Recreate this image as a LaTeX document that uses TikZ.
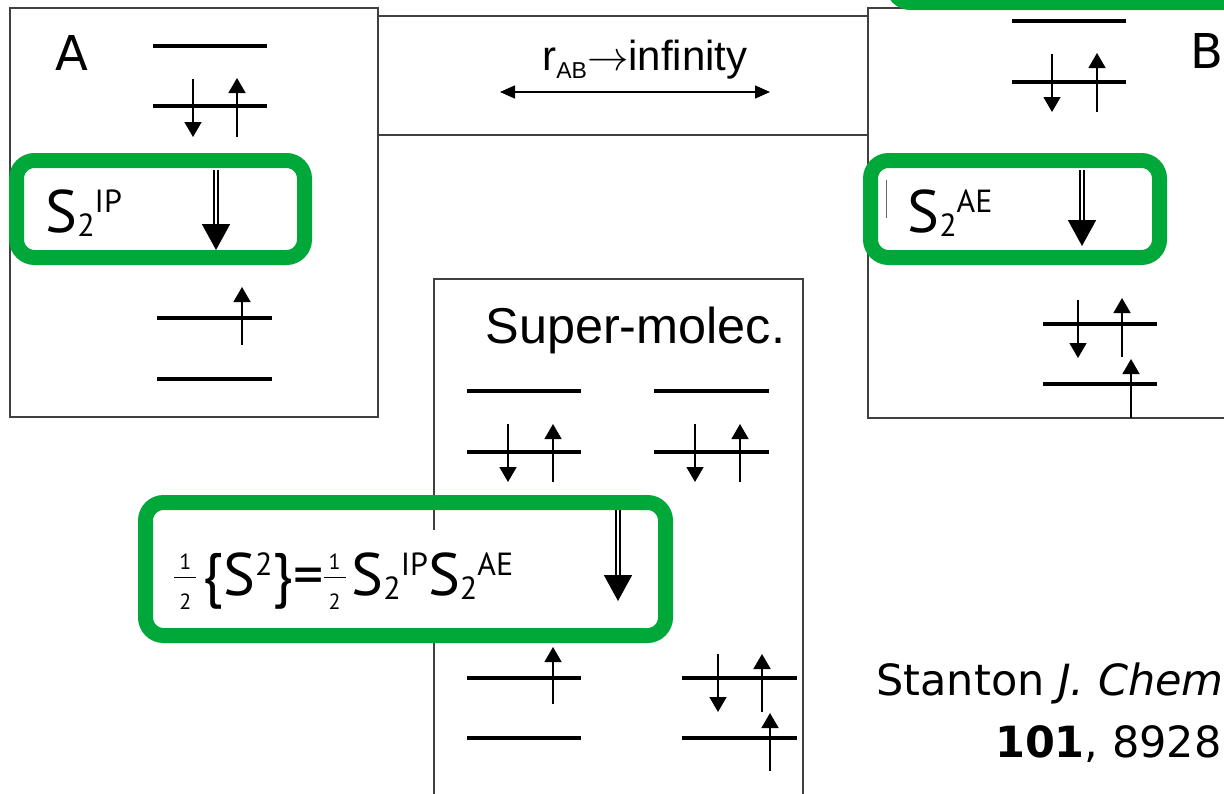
\documentclass[tikz,border=0pt]{standalone}
\usepackage{fontspec}
\setmainfont{DejaVu Sans}
\newfontfamily\arialfont{Liberation Sans}
\newfontfamily\labelfont{PT Sans}
\usetikzlibrary{arrows.meta}
\definecolor{boxgreen}{RGB}{0,168,57}
\newcommand\lowtxt[1]{\raisebox{-2pt}{\fontsize{16}{16}\selectfont #1}}
\newcommand\hightxt[1]{\raisebox{10pt}{\fontsize{16}{16}\selectfont #1}}
\newcommand\halffrac{\makebox[11pt]{%
    \rlap{\raisebox{13pt}{\makebox[11pt]{\fontsize{11}{11}\selectfont 1}}}%
    \rlap{\raisebox{8.5pt}{\rule{11pt}{0.75pt}}}%
    \raisebox{-7pt}{\makebox[11pt]{\fontsize{11}{11}\selectfont 2}}}}
\begin{document}
\begin{tikzpicture}[
        x=0.5pt, y=-0.5pt,
        frame/.style={draw=black!75, line width=0.75pt},
        orbital/.style={line width=2pt},
        spin/.style={line width=0.75pt, -{Triangle[width=8.5pt,length=7.5pt]}},
        transfer/.style={double, line width=0.9pt, double distance=0.9pt,
            -{Triangle[width=14pt,length=13pt]}},
        highlight/.style={draw=boxgreen, line width=7.5pt, rounded corners=9pt},
        spinlabel/.style={anchor=base west, font=\labelfont\fontsize{30}{34}\selectfont},
        every node/.style={inner sep=0pt}
    ]
    \useasboundingbox (0,0) rectangle (1224,793);
    % frames
    \draw[frame] (10,8) rectangle (378,417);
    \draw[frame] (378,16) rectangle (868,135);
    \draw[frame] (868,8) rectangle (1240,418);
    \draw[frame] (434,279) rectangle (803,800);
    % separation
    \node[anchor=base west] (sep) at (542,70)
        {\arialfont\fontsize{21}{24}\selectfont
         r\raisebox{-4pt}{\fontsize{11.5}{12}\selectfont AB}$\rightarrow$infinity};
    \draw[line width=0.75pt, {Triangle[width=6.5pt,length=7.5pt]}-{Triangle[width=6.5pt,length=7.5pt]}]
        (500,92) -- (770,92);
    % molecule A
    \node[anchor=base west] (labelA) at (55,70) {\fontsize{24}{28}\selectfont A};
    \draw[orbital] (153,46) -- (267,46);
    \draw[orbital] (153,106) -- (267,106);
    \draw[spin] (193,79) -- (193,137);
    \draw[spin] (237,137) -- (237,78);
    \draw[transfer] (216,170) -- (216,250);
    \draw[orbital] (157,318) -- (272,318);
    \draw[spin] (242,345) -- (242,287);
    \draw[orbital] (157,379) -- (272,379);
    % molecule B
    \node[anchor=base west] (labelB) at (1190,68) {\fontsize{24}{28}\selectfont B};
    \draw[orbital] (1012,21) -- (1126,21);
    \draw[orbital] (1012,82) -- (1126,82);
    \draw[spin] (1052,54) -- (1052,112);
    \draw[spin] (1097,112) -- (1097,53);
    \draw[transfer] (1082,170) -- (1082,246);
    \draw[orbital] (1043,324) -- (1157,324);
    \draw[spin] (1078,300) -- (1078,358);
    \draw[spin] (1122,357) -- (1122,298);
    \draw[orbital] (1043,384) -- (1157,384);
    \draw[spin] (1131,418) -- (1131,359);
    \draw[black!60, line width=0.5pt] (886,180) -- (886,218);
    % super-molecule
    \node[anchor=base west] (labelAB) at (485,343)
        {\arialfont\fontsize{25.2}{28}\selectfont Super-molec.};
    \draw[orbital] (467,391) -- (581,391);
    \draw[orbital] (467,452) -- (581,452);
    \draw[spin] (508,424) -- (508,482);
    \draw[spin] (553,482) -- (553,424);
    \draw[orbital] (654,391) -- (769,391);
    \draw[orbital] (654,452) -- (769,452);
    \draw[spin] (695,424) -- (695,482);
    \draw[spin] (740,482) -- (740,424);
    \draw[transfer] (618,510) -- (618,601);
    \draw[orbital] (467,678) -- (581,678);
    \draw[orbital] (467,738) -- (581,738);
    \draw[spin] (553,704) -- (553,647);
    \draw[orbital] (682,678) -- (797,678);
    \draw[orbital] (682,738) -- (797,738);
    \draw[spin] (718,654) -- (718,712);
    \draw[spin, line width=1pt] (762,712) -- (762,654);
    \draw[spin] (770,771) -- (770,713);
    % spin contamination terms
    \node[spinlabel, fill=white, inner xsep=1pt, inner ysep=11pt] (product) at (172,595)
        {\halffrac\hspace{3pt}\{S\hightxt{2}\}=\halffrac\hspace{3pt}S\lowtxt{2}\hightxt{IP}S\lowtxt{2}\hightxt{AE}};
    \draw[highlight] (16.5,160.5) rectangle (304.5,257.5);
    \draw[highlight] (870.5,160.5) rectangle (1159.5,257.5);
    \draw[highlight] (145.5,502.5) rectangle (665.5,635.5);
    \draw[highlight] (892.5,-60) rectangle (1300,2.5);
    \node[spinlabel] (ipA) at (45,232) {S\lowtxt{2}\hightxt{IP}};
    \node[spinlabel] (aeB) at (907,232) {S\lowtxt{2}\hightxt{AE}};
    % reference
    \node[anchor=base west] (cite1) at (876,695)
        {\fontsize{21.5}{24}\selectfont Stanton \textit{J. Chem}};
    \node[anchor=base east] (cite2) at (1222,757)
        {\fontsize{21.5}{24}\selectfont \textbf{101}, 8928};
\end{tikzpicture}
\end{document}
